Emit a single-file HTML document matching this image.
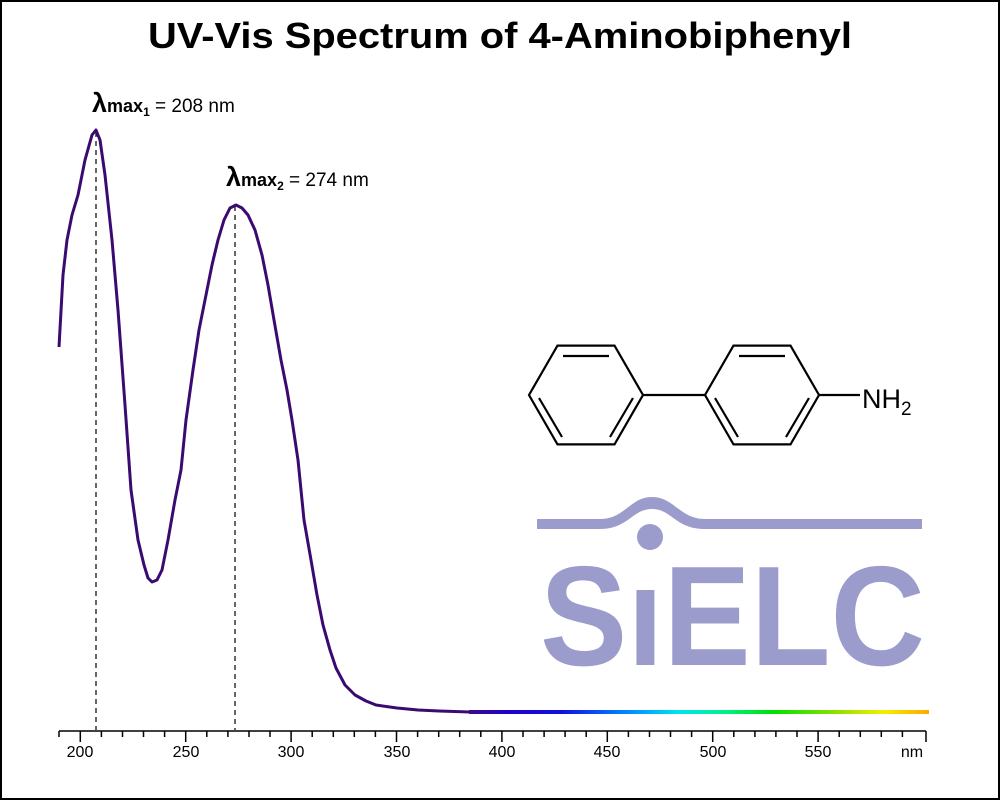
<!DOCTYPE html>
<html><head><meta charset="utf-8"><style>
html,body{margin:0;padding:0;background:#fff}
svg{display:block}
text{font-family:"Liberation Sans",Arial,sans-serif}
</style></head><body>
<svg width="1000" height="800" viewBox="0 0 1000 800" xmlns="http://www.w3.org/2000/svg">
<defs>
<linearGradient id="sp" x1="470" y1="0" x2="929" y2="0" gradientUnits="userSpaceOnUse">
<stop offset="0" stop-color="#3a0a8a"/>
<stop offset="0.08" stop-color="#2000c8"/>
<stop offset="0.2" stop-color="#1010e0"/>
<stop offset="0.35" stop-color="#0090ff"/>
<stop offset="0.45" stop-color="#00e0f0"/>
<stop offset="0.55" stop-color="#00f090"/>
<stop offset="0.66" stop-color="#00e000"/>
<stop offset="0.8" stop-color="#90e000"/>
<stop offset="0.9" stop-color="#f0f000"/>
<stop offset="1" stop-color="#ffa800"/>
</linearGradient>
</defs>
<rect x="1" y="1" width="998" height="798" fill="#fff" stroke="#000" stroke-width="2"/>
<text x="500" y="48" text-anchor="middle" font-size="36" font-weight="bold" textLength="704" lengthAdjust="spacingAndGlyphs">UV-Vis Spectrum of 4-Aminobiphenyl</text>

<!-- logo -->
<g fill="#9b9bcc">
<path d="M537 519 L600 519 C625 519 630 497 652 497 C674 497 680 519 705 519 L922 519 L922 529 L705 529 C675 529 672 509 652 509 C632 509 628 529 600 529 L537 529 Z"/>
<circle cx="650" cy="537" r="13"/>
<text x="540" y="665" font-size="142" font-weight="bold" textLength="385" lengthAdjust="spacingAndGlyphs">SıELC</text>
</g>

<!-- molecule -->
<g stroke="#000" stroke-width="2.2" fill="none">
<polygon points="529,395 557.5,345.6 614.5,345.6 643,395 614.5,444.4 557.5,444.4"/>
<polygon points="705,395 733.5,345.6 790.5,345.6 819,395 790.5,444.4 733.5,444.4"/>
<line x1="643" y1="395" x2="705" y2="395"/>
<line x1="819" y1="395" x2="860" y2="395"/>
<line x1="563" y1="356" x2="609" y2="356"/>
<line x1="539" y1="398" x2="562" y2="437"/>
<line x1="633" y1="398" x2="610" y2="437"/>
<line x1="739" y1="356" x2="785" y2="356"/>
<line x1="715" y1="398" x2="738" y2="437"/>
<line x1="809" y1="398" x2="786" y2="437"/>
</g>
<text x="862" y="408" font-size="27">NH<tspan font-size="19" dy="7">2</tspan></text>

<!-- dashed -->
<g stroke="#000" stroke-width="1.2" stroke-dasharray="5,4">
<line x1="96" y1="132" x2="96" y2="730"/>
<line x1="235" y1="206" x2="235" y2="730"/>
</g>
<text x="92" y="112" font-size="19"><tspan font-size="27" font-weight="bold">λ</tspan><tspan font-weight="bold" font-size="18">max</tspan><tspan font-weight="bold" font-size="12" dy="4">1</tspan><tspan dy="-4"> = 208 nm</tspan></text>
<text x="226" y="186" font-size="19"><tspan font-size="27" font-weight="bold">λ</tspan><tspan font-weight="bold" font-size="18">max</tspan><tspan font-weight="bold" font-size="12" dy="4">2</tspan><tspan dy="-4"> = 274 nm</tspan></text>

<!-- curve -->
<polyline fill="none" stroke="#3a0a70" stroke-width="3" stroke-linejoin="round" points="59,347 63,275 67,240 72,215 78,195 85,160 92,135 96,130 100,140 105,175 112,240 118,310 125,405 131,490 138,540 144,565 148,578 152,582 157,580 162,570 168,540 175,500 181,470 186,420 193,370 199,330 206,295 212,265 218,240 224,220 230,208 236,205 242,208 248,215 255,230 262,255 268,285 274,320 281,360 287,390 292,420 298,460 304,520 311,560 317,595 323,625 330,650 336,668 345,685 355,695 366,701 376,705 397,708 418,710 439,711 470,712"/>
<line x1="469" y1="712" x2="929" y2="712" stroke="url(#sp)" stroke-width="4"/>

<!-- axis -->
<g stroke="#000" stroke-width="1.5">
<line x1="59" y1="731" x2="926" y2="731"/>
<line x1="59" y1="731" x2="59" y2="737"/>
<line x1="926" y1="731" x2="926" y2="742"/>
<path d="M80.3 731V742 M101.4 731V737 M122.5 731V737 M143.5 731V737 M164.6 731V737 M185.7 731V742 M206.8 731V737 M227.9 731V737 M249 731V737 M270 731V737 M291.1 731V742 M312.2 731V737 M333.3 731V737 M354.3 731V737 M375.4 731V737 M396.5 731V742 M417.6 731V737 M438.7 731V737 M459.7 731V737 M480.8 731V737 M501.9 731V742 M523 731V737 M544.1 731V737 M565.1 731V737 M586.2 731V737 M607.3 731V742 M628.4 731V737 M649.5 731V737 M670.5 731V737 M691.6 731V737 M712.7 731V742 M733.8 731V737 M754.9 731V737 M775.9 731V737 M797 731V737 M818.1 731V742 M839.2 731V737 M860.3 731V737 M881.3 731V737 M902.4 731V737"/>
</g>
<g font-size="16" text-anchor="middle">
<text x="80" y="757">200</text><text x="186" y="757">250</text><text x="291" y="757">300</text><text x="397" y="757">350</text><text x="502" y="757">400</text><text x="607" y="757">450</text><text x="713" y="757">500</text><text x="818" y="757">550</text><text x="912" y="757">nm</text>
</g>
</svg>
</body></html>
